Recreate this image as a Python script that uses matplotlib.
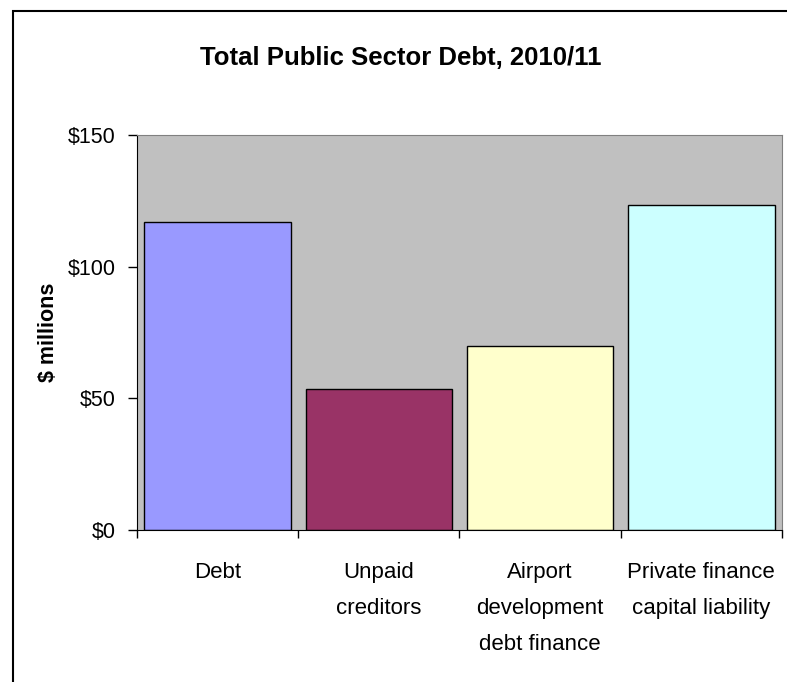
import matplotlib
matplotlib.use('Agg')
import matplotlib.pyplot as plt
from matplotlib.patches import Rectangle
from matplotlib.ticker import FuncFormatter

# Debt components, $ millions
categories = ['Debt', 'Unpaid\ncreditors', 'Airport\ndevelopment\ndebt finance',
              'Private finance\ncapital liability']
values = [117, 53.5, 70, 123.5]
colors = ['#9999FF', '#993366', '#FFFFCC', '#CCFFFF']

plt.rcParams['font.family'] = ['Liberation Sans', 'DejaVu Sans']

fig = plt.figure(figsize=(7.87, 6.82), dpi=100)
ax = fig.add_axes([137/787, 1 - 530/682, (782-137)/787, (530-135)/682])

x = range(len(categories))
ax.bar(x, values, width=0.91, color=colors, edgecolor='black', linewidth=1, zorder=2)

ax.set_facecolor('#C0C0C0')
ax.set_xlim(-0.5, len(categories) - 0.5)
ax.set_ylim(0, 150)
ax.set_yticks([0, 50, 100, 150])
ax.yaxis.set_major_formatter(FuncFormatter(lambda v, p: '$%d' % v))
ax.tick_params(axis='y', direction='out', length=6.5, width=1, labelsize=15.5, pad=9)

# boundary ticks on the category axis, labels centred under the bars
ax.set_xticks([i - 0.5 for i in range(len(categories) + 1)])
ax.set_xticklabels([])
ax.set_xticks(list(x), minor=True)
ax.set_xticklabels(categories, minor=True, fontsize=16, linespacing=1.95)
ax.tick_params(axis='x', which='major', direction='out', length=6, width=1)
ax.tick_params(axis='x', which='minor', length=0, pad=23)

for s in ['top', 'right']:
    ax.spines[s].set_color('#808080')
for s in ['left', 'bottom']:
    ax.spines[s].set_color('black')

ax.set_ylabel('$ millions', fontsize=15.5, fontweight='bold', labelpad=6)
fig.text(401/787, 1 - 65/682, 'Total Public Sector Debt, 2010/11', fontsize=18.5,
         fontweight='bold', ha='center', va='baseline')

# chart frame
fig.patches.append(Rectangle((13/787, -0.1), 1.1, 1 - 11/682 + 0.1,
                             transform=fig.transFigure, fill=False,
                             edgecolor='black', linewidth=1.5))

fig.savefig('out.png', dpi=100)
